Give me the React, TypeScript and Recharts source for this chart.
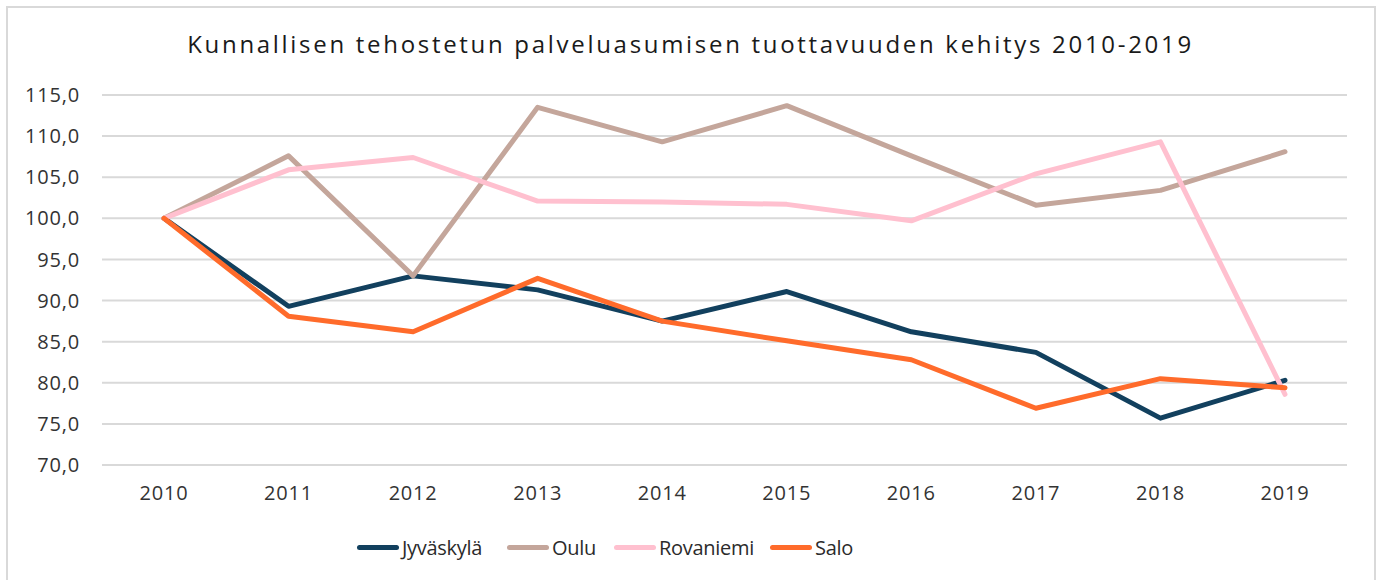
import React from 'react';
import { LineChart, Line, XAxis, YAxis, CartesianGrid } from 'recharts';

const years = ['2010', '2011', '2012', '2013', '2014', '2015', '2016', '2017', '2018', '2019'];

const jyvaskyla = [100, 89.3, 93.0, 91.3, 87.5, 91.1, 86.2, 83.7, 75.7, 80.3];
const oulu = [100, 107.6, 93.0, 113.5, 109.3, 113.7, 107.6, 101.6, 103.4, 108.1];
const rovaniemi = [100, 105.9, 107.4, 102.1, 102.0, 101.7, 99.7, 105.4, 109.3, 78.6];
const salo = [100, 88.1, 86.2, 92.7, 87.5, 85.1, 82.8, 76.9, 80.5, 79.4];

const yTicks = [70, 75, 80, 85, 90, 95, 100, 105, 110, 115];

const seriesList = [
  { key: 'Jyväskylä', color: '#12405e' },
  { key: 'Oulu', color: '#c4a69b' },
  { key: 'Rovaniemi', color: '#ffc0cf' },
  { key: 'Salo', color: '#ff6b2b' },
];

// legendin kohteiden vasen reuna (px)
const legendX = [357, 507, 614, 770];

const data = years.map((year, i) => ({
  year,
  'Jyväskylä': jyvaskyla[i],
  Oulu: oulu[i],
  Rovaniemi: rovaniemi[i],
  Salo: salo[i],
}));

const FONT = '"Open Sans", "Noto Sans", sans-serif';

function ChartLegend() {
  return (
    <div style={{ position: 'absolute', top: 533, left: 0, width: 1381, height: 28, fontFamily: FONT }}>
      {seriesList.map((s, i) => (
        <div
          key={s.key}
          style={{ position: 'absolute', left: legendX[i], top: 0, height: 28, display: 'flex', alignItems: 'center' }}
        >
          <span
            style={{
              display: 'inline-block',
              width: 42,
              height: 5,
              borderRadius: 3,
              background: s.color,
              marginRight: 3,
            }}
          />
          <span style={{ fontSize: 20, color: '#2b2b2b', letterSpacing: -0.3 }}>{s.key}</span>
        </div>
      ))}
    </div>
  );
}

export default function App() {
  return (
    <div style={{ position: 'absolute', left: 0, top: 0, width: 1381, height: 580, background: '#fff', overflow: 'hidden' }}>
      <div
        style={{
          position: 'absolute',
          left: 6,
          top: 6,
          width: 1366,
          height: 590,
          border: '2px solid #d9d9d9',
        }}
      />
      <div
        style={{
          position: 'absolute',
          top: 27,
          left: 0,
          width: 1381,
          textAlign: 'center',
          fontFamily: FONT,
          fontSize: 24,
          letterSpacing: 2.7,
          color: '#1a1a1a',
        }}
      >
        Kunnallisen tehostetun palveluasumisen tuottavuuden kehitys 2010-2019
      </div>
      <div style={{ position: 'absolute', left: 0, top: 0 }}>
        <LineChart width={1381} height={580} data={data} margin={{ top: 95, right: 34, bottom: 65, left: 0 }}>
          <CartesianGrid vertical={false} stroke="#d9d9d9" strokeWidth={2} />
          <XAxis
            dataKey="year"
            axisLine={false}
            tickLine={false}
            tickMargin={15}
            height={50}
            padding={{ left: 62, right: 62 }}
            tick={{ fontSize: 20, fill: '#333', fontFamily: FONT, letterSpacing: 0.8 }}
          />
          <YAxis
            domain={[70, 115]}
            ticks={yTicks}
            axisLine={false}
            tickLine={false}
            tickSize={0}
            tickMargin={22}
            width={102}
            tickFormatter={(v: number) => v.toFixed(1).replace('.', ',')}
            tick={{ fontSize: 20, fill: '#333', fontFamily: FONT, letterSpacing: 0.8 }}
          />
          {seriesList.map((s) => (
            <Line
              key={s.key}
              type="linear"
              dataKey={s.key}
              stroke={s.color}
              strokeWidth={5}
              strokeLinecap="round"
              strokeLinejoin="round"
              dot={false}
              activeDot={false}
              isAnimationActive={false}
            />
          ))}
        </LineChart>
      </div>
      <ChartLegend />
    </div>
  );
}
